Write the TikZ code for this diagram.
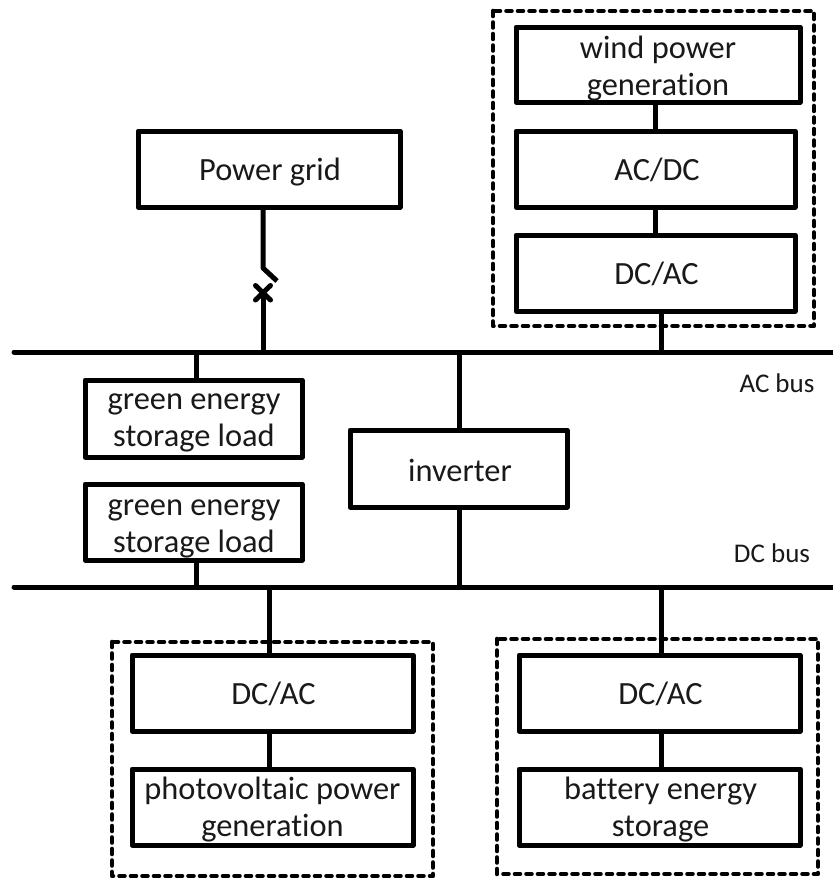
\documentclass[tikz,border=0pt]{standalone}
\usepackage{fontspec}
\setmainfont[Ligatures=NoCommon]{Carlito}
\begin{document}
\begin{tikzpicture}[x=1pt,y=-1pt,
  box/.style={draw=black,line width=5pt,line join=round,inner sep=0pt},
  boxtext/.style={inner sep=0pt,align=center,font=\fontsize{32.4}{37}\selectfont,text=black!90},
  wire/.style={draw=black,line width=5pt},
  group/.style={draw=black,line width=4.6pt,line cap=round,line join=round,dash pattern=on 5pt off 6.5pt},
  lbl/.style={inner sep=0pt,font=\fontsize{27}{30}\selectfont,text=black!90}]
\useasboundingbox (0,0) rectangle (833,879);
\fill[white] (0,0) rectangle (833,879);
% dashed groups first, so that the connectors cross over them
\draw[group] (493,11) rectangle (814,326);
\draw[group] (112,642) rectangle (433,876);
\draw[group] (497,639) rectangle (818,874);
% name, left, right, top, bottom
\newcommand{\bx}[5]{\node[box,minimum width=#3-#2 pt,minimum height=#5-#4 pt] (#1) at ({(#2+#3)/2},{(#4+#5)/2}) {};}
% box, dx, dy (downwards), text
\newcommand{\tx}[4]{\node[boxtext] at ([xshift=#2pt,yshift=-#3pt]#1.center) {#4};}
\bx{wind}{516}{800}{27}{102}
\bx{acdc}{516}{795}{131}{207}
\bx{dcacw}{516}{795}{235}{311}
\bx{grid}{138}{400}{131}{207}
\bx{loada}{85}{302}{380}{457}
\bx{loadb}{85}{302}{484}{560}
\bx{inv}{350}{567}{430}{507}
\bx{dcpv}{132}{413}{655}{731}
\bx{pv}{132}{413}{769}{845}
\bx{dcb}{519}{800}{655}{731}
\bx{bat}{519}{800}{769}{845}
\coordinate (acL) at (14,352); \coordinate (acR) at (836,352);
\coordinate (dcL) at (14,587); \coordinate (dcR) at (836,587);
\coordinate (xw) at (655,0);
\coordinate (xwb) at (661,0);
\coordinate (xl) at (196,0);
\coordinate (xi) at (459,0);
\coordinate (xp) at (269,0);
\coordinate (xg) at (263,0);
\coordinate (swk) at (263,268);
\coordinate (swe) at (277,281);
\coordinate (swx) at (263,293);
\coordinate (xa) at (255.5,285.5);
\coordinate (xb) at (270.5,300);
\coordinate (xc) at (270.5,285.5);
\coordinate (xd) at (255.5,300);
\draw[wire,line cap=round] (acL) -- (acR);
\draw[wire,line cap=round] (dcL) -- (dcR);
\draw[wire] (wind.south -| xw) -- (acdc.north -| xw);
\draw[wire] (acdc.south -| xw) -- (dcacw.north -| xw);
\draw[wire] (dcacw.south -| xwb) -- (acL -| xwb);
\draw[wire] (acL -| xl) -- (loada.north -| xl);
\draw[wire] (loadb.south -| xl) -- (dcL -| xl);
\draw[wire] (acL -| xi) -- (inv.north -| xi);
\draw[wire] (inv.south -| xi) -- (dcL -| xi);
\draw[wire] (dcL -| xp) -- (dcpv.north -| xp);
\draw[wire] (dcL -| xwb) -- (dcb.north -| xwb);
\draw[wire] (dcpv.south -| xp) -- (pv.north -| xp);
\draw[wire] (dcb.south -| xwb) -- (bat.north -| xwb);
\draw[wire,line join=round] (grid.south -| xg) -- (swk) -- (swe);
\draw[wire] (swx) -- (acL -| xg);
\draw[wire,line cap=round] (xa) -- (xb);
\draw[wire,line cap=round] (xc) -- (xd);
\tx{wind}{0}{4.5}{wind power\\generation}
\tx{acdc}{1.5}{1}{AC/DC}
\tx{dcacw}{1}{1}{DC/AC}
\tx{grid}{1}{3}{Power grid}
\tx{loada}{0.5}{4}{green energy\\storage load}
\tx{loadb}{0.5}{6.5}{green energy\\storage load}
\tx{inv}{1.5}{2}{inverter}
\tx{dcpv}{1}{0.5}{DC/AC}
\tx{pv}{0}{3}{photovoltaic power\\generation}
\tx{dcb}{1}{0.5}{DC/AC}
\tx{bat}{1}{3}{battery energy\\storage}
\node[lbl] (ac) at (777,383) {AC bus};
\node[lbl] (dc) at (772,553) {DC bus};
\end{tikzpicture}
\end{document}
